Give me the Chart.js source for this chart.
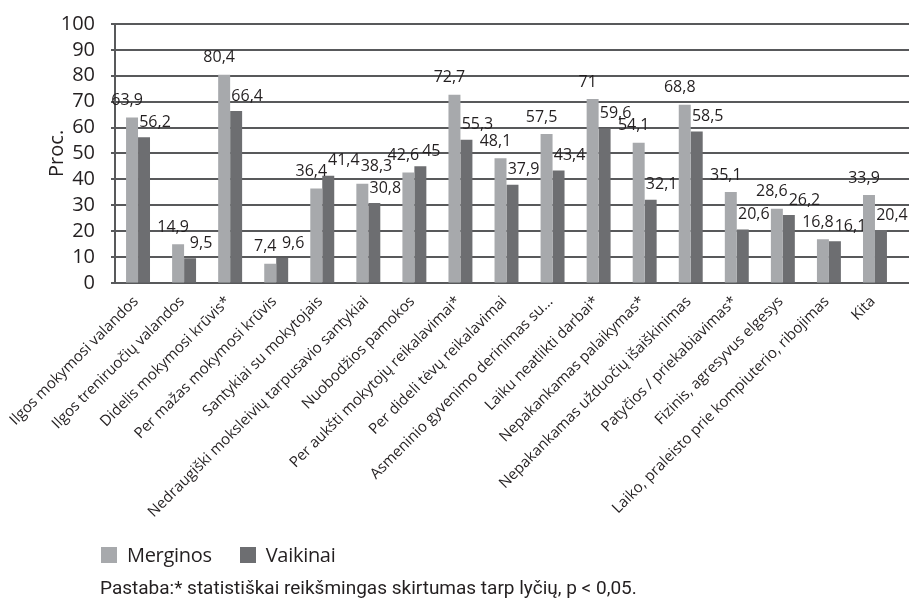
<!DOCTYPE html>
<html>
<head>
<meta charset="utf-8">
<script src="https://cdn.jsdelivr.net/npm/chart.js@4"></script>
<style>
    html, body { margin: 0; padding: 0; background: #fff; }
    #wrap { position: relative; width: 909px; height: 607px; }
    #legend { position: absolute; left: 101px; top: 541px; font-family: 'Open Sans', sans-serif; font-size: 20px; letter-spacing: -0.3px; color: #231f20; line-height: 28px; }
    .item { display: inline-flex; align-items: center; margin-right: 28px; }
    .box { width: 16px; height: 16px; margin-right: 10px; display: inline-block; }
    #note { position: absolute; left: 100px; top: 576px; font-family: 'Roboto', sans-serif; font-size: 19px; color: #231f20; white-space: nowrap; line-height: 24px; }
</style>
</head>
<body>
<div id="wrap">
    <canvas id="chart" width="909" height="607"></canvas>
    <div id="legend"></div>
    <div id="note"></div>
</div>
<script>
const categories = [
    'Ilgos mokymosi valandos',
    'Ilgos treniruočių valandos',
    'Didelis mokymosi krūvis*',
    'Per mažas mokymosi krūvis',
    'Santykiai su mokytojais',
    'Nedraugiški moksleivių tarpusavio santykiai',
    'Nuobodžios pamokos',
    'Per aukšti mokytojų reikalavimai*',
    'Per dideli tėvų reikalavimai',
    'Asmeninio gyvenimo derinimas su...',
    'Laiku neatlikti darbai*',
    'Nepakankamas palaikymas*',
    'Nepakankamas užduočių išaiškinimas',
    'Patyčios / priekabiavimas*',
    'Fizinis, agresyvus elgesys',
    'Laiko, praleisto prie kompiuterio, ribojimas',
    'Kita'
];
const merginos = [63.9, 14.9, 80.4, 7.4, 36.4, 38.3, 42.6, 72.7, 48.1, 57.5, 71, 54.1, 68.8, 35.1, 28.6, 16.8, 33.9];
const vaikinai = [56.2, 9.5, 66.4, 9.6, 41.4, 30.8, 45, 55.3, 37.9, 43.4, 59.6, 32.1, 58.5, 20.6, 26.2, 16.1, 20.4];
const seriesNames = ['Merginos', 'Vaikinai'];
const noteText = 'Pastaba:* statistiškai reikšmingas skirtumas tarp lyčių, p < 0,05.';
const yTitle = 'Proc.';

const colors = ['#a7a9ac', '#6d6e71'];
const textColor = '#231f20';
const gridColor = '#58595b';

function fmt(v) {
    return String(v).replace('.', ',');
}

// grid + axis lines as thin filled rects, placed from the y scale ticks
const gridRects = {
    id: 'gridRects',
    beforeDatasetsDraw(chart) {
        const ctx = chart.ctx;
        const y = chart.scales.y;
        const area = chart.chartArea;
        ctx.save();
        ctx.fillStyle = gridColor;
        y.ticks.forEach(t => {
            const py = Math.round(y.getPixelForValue(t.value));
            ctx.fillRect(area.left - 4, py - 1, chart.width - area.left + 4, 2);
        });
        ctx.fillRect(area.left - 1, area.top - 1, 2, area.bottom - area.top + 2);
        ctx.restore();
    }
};

// value labels next to each bar, pushed right when they would collide
const valueLabels = {
    id: 'valueLabels',
    afterDatasetsDraw(chart) {
        const ctx = chart.ctx;
        const shift = [[-5, -17], [11, -15]];
        const h = 11;
        const placed = [];
        ctx.save();
        ctx.font = '16px "Open Sans"';
        ctx.fillStyle = textColor;
        ctx.textAlign = 'center';
        ctx.textBaseline = 'middle';
        const metas = chart.data.datasets.map((ds, i) => chart.getDatasetMeta(i));
        chart.data.labels.forEach((lab, j) => {
            chart.data.datasets.forEach((ds, i) => {
                const bar = metas[i].data[j];
                const txt = fmt(ds.data[j]);
                const w = ctx.measureText(txt).width;
                let x = bar.x + shift[i][0];
                const y = bar.y + shift[i][1];
                placed.forEach(p => {
                    if (Math.abs(p.y - y) < h && x - w / 2 < p.x + p.w / 2 + 1) {
                        x = Math.max(x, p.x + p.w / 2 + 1 + w / 2);
                    }
                });
                placed.push({ x, y, w });
                ctx.fillText(txt, x, y);
            });
        });
        ctx.restore();
    }
};

const chart = new Chart(document.getElementById('chart'), {
    type: 'bar',
    data: {
        labels: categories,
        datasets: [
            { label: seriesNames[0], data: merginos, backgroundColor: colors[0] },
            { label: seriesNames[1], data: vaikinai, backgroundColor: colors[1] }
        ]
    },
    options: {
        responsive: false,
        animation: false,
        devicePixelRatio: 1,
        categoryPercentage: 0.52,
        barPercentage: 1.0,
        layout: { padding: { top: 18, right: 11, left: 31, bottom: 84 } },
        scales: {
            x: {
                grid: { display: false },
                border: { display: false },
                // rotated labels may hang left of the plot; don't let them push it
                afterFit: s => { s.paddingLeft = 0; s.paddingRight = 0; },
                ticks: {
                    autoSkip: false,
                    maxRotation: 45,
                    minRotation: 45,
                    labelOffset: -2,
                    color: textColor,
                    font: { family: 'Open Sans', size: 15 },
                    padding: 2
                }
            },
            y: {
                min: 0,
                max: 100,
                afterFit: s => { s.width = 84; },
                ticks: {
                    stepSize: 10,
                    autoSkip: false,
                    color: textColor,
                    font: { family: 'Open Sans', size: 20 },
                    padding: 12
                },
                grid: { display: false },
                border: { display: false },
                title: {
                    display: true,
                    text: yTitle,
                    color: textColor,
                    font: { family: 'Open Sans', size: 20 },
                    padding: { top: 14, bottom: 0 }
                }
            }
        },
        plugins: {
            legend: { display: false },
            tooltip: { enabled: false }
        }
    },
    plugins: [gridRects, valueLabels]
});

// legend and note as html under the chart
const legend = document.getElementById('legend');
seriesNames.forEach((name, i) => {
    const item = document.createElement('span');
    item.className = 'item';
    item.innerHTML = '<span class="box" style="background:' + colors[i] + '"></span>' + name;
    legend.appendChild(item);
});
document.getElementById('note').textContent = noteText;
</script>
</body>
</html>
